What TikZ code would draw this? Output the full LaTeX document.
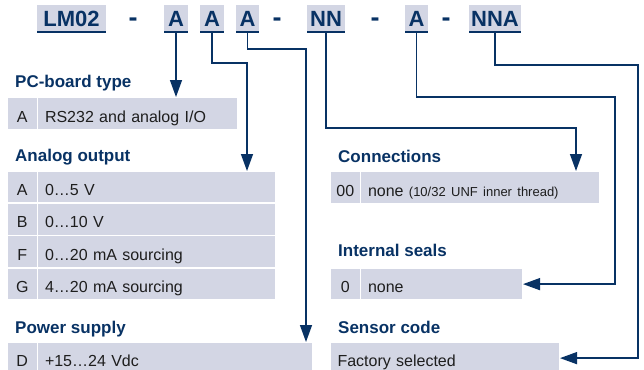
\documentclass[tikz,border=0pt]{standalone}
\usepackage{fontspec}
\setmainfont{Liberation Sans}
\usetikzlibrary{arrows.meta}
\definecolor{navy}{RGB}{8,50,100}
\definecolor{cellbg}{RGB}{211,214,228}
\definecolor{txt}{RGB}{30,30,30}
\begin{document}
\begin{tikzpicture}[x=1pt,y=-1pt,
  code/.style={fill=cellbg, inner sep=0pt, outer sep=0pt, minimum height=27pt, minimum width=#1,
    text=navy, font=\fontsize{22}{25}\bfseries\selectfont, text height=16.4pt, text depth=0pt},
  dashtxt/.style={anchor=base, inner sep=0pt, text=navy, font=\fontsize{27}{30}\bfseries\selectfont},
  uline/.style={draw=navy, line width=1.5pt},
  head/.style={anchor=base west, inner sep=0pt, text=navy, font=\fontsize{17}{20}\bfseries\selectfont},
  key/.style={anchor=north west, fill=cellbg, draw=white, line width=1.6pt, inner sep=0pt, outer sep=0pt,
    minimum width=30.5pt, minimum height=#1, text height=17pt, text depth=0pt, text=txt,
    font=\fontsize{16}{19}\selectfont},
  key/.default=32.25pt,
  val/.style={anchor=north west, fill=cellbg, draw=white, line width=1.6pt, inner ysep=0pt, inner xsep=7.5pt,
    outer sep=0pt, minimum height=#1, text height=17pt, text depth=0pt, text=txt, align=left,
    font=\fontsize{16}{19}\selectfont},
  val/.default=32.25pt,
  conn/.style={draw=navy, line width=1.4pt, -{Triangle[length=17pt,width=12pt]}}
]
\useasboundingbox (0,0) rectangle (644,369);

% ---- order code ----
\node[code=69pt]  (lm)  at (71.5,18.5) {LM02};
\node[dashtxt]    (d1)  at (133,26.7) {-};
\node[code=24pt]  (ca1) at (176,18.5) {A};
\node[code=24pt]  (ca2) at (212,18.5) {A};
\node[code=23pt]  (ca3) at (247.5,18.5) {A};
\node[dashtxt]    (d2)  at (277,26.7) {-};
\node[code=38pt]  (cnn) at (326,18.5) {NN};
\node[dashtxt]    (d3)  at (375,26.7) {-};
\node[code=23pt]  (ca5) at (416.5,18.5) {A};
\node[dashtxt]    (d4)  at (446,26.7) {-};
\node[code=52pt]  (cnna) at (495,18.5) {NNA};
\foreach \n in {lm,ca1,ca2,ca3,cnn,ca5,cnna}
  \draw[uline] (\n.south west) -- (\n.south east);

% ---- left column ----
\node[head] (hpcb) at (15,87) {PC-board type};
\node[key=33pt] (pcbk) at (7,97) {A};
\node[val=33pt, text width=185.5pt] (pcbv) at (37.5,97) {RS232 and analog I/O};

\node[head] (hana) at (15,161.7) {Analog output};
\node[key] (anak1) at (7,171) {A};
\node[val, text width=223.5pt] (anav1) at (37.5,171) {0…5 V};
\node[key] (anak2) at (7,203.25) {B};
\node[val, text width=223.5pt] (anav2) at (37.5,203.25) {0…10 V};
\node[key] (anak3) at (7,235.5) {F};
\node[val, text width=223.5pt] (anav3) at (37.5,235.5) {0…20 mA sourcing};
\node[key] (anak4) at (7,267.75) {G};
\node[val, text width=223.5pt] (anav4) at (37.5,267.75) {4…20 mA sourcing};

\node[head] (hpow) at (15,333) {Power supply};
\node[key] (powk) at (7,342) {D};
\node[val, text width=260.5pt] (powv) at (37.5,342) {+15…24 Vdc};

% ---- right column ----
\node[head] (hcon) at (338,162) {Connections};
\node[key=33pt] (conk) at (330,171) {00};
\node[val=33pt, text width=224pt] (conv) at (360.5,171) {none {\fontsize{13}{15}\selectfont(10/32 UNF inner thread)}};

\node[head] (hseal) at (338,256.7) {Internal seals};
\node[key] (sealk) at (330,268) {0};
\node[val, text width=147.5pt] (sealv) at (360.5,268) {none};

\node[head] (hsen) at (338,333) {Sensor code};
\node[val, text width=215pt] (senv) at (330,342) {Factory selected};

% ---- connectors ----
\coordinate (k2) at (247,63);
\coordinate (k3) at (306,49);
\coordinate (k4) at (576,128);
\coordinate (k5) at (615,97);
\coordinate (k6) at (638,65);
\draw[conn] (ca1.south) -- (ca1.south |- pcbv.north);
\draw[conn] (ca2.south) |- (k2) -- (k2 |- anav1.north);
\draw[conn] (ca3.south) |- (k3) -- (k3 |- powv.north);
\draw[conn] (cnn.south) |- (k4) -- (k4 |- conv.north);
\draw[conn] (ca5.south) |- (k5) |- (sealv.east);
\draw[conn] (cnna.south) |- (k6) |- (senv.east);
\end{tikzpicture}
\end{document}
